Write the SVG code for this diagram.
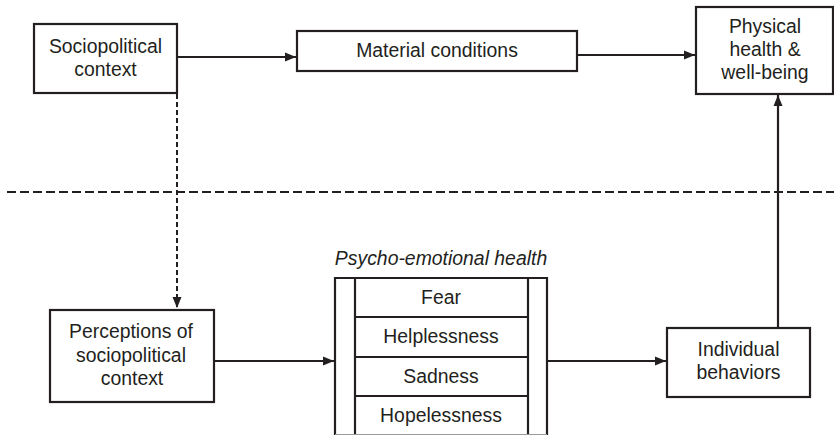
<svg xmlns="http://www.w3.org/2000/svg" width="834" height="435" viewBox="0 0 834 435">
<style>
.box{fill:#fff;stroke:#231f20;stroke-width:2.2}
.t{font-family:"Liberation Sans",Arial,sans-serif;font-size:19.4px;fill:#231f20;text-anchor:middle}
.ln{stroke:#231f20;stroke-width:2.2;fill:none}
.dash{stroke:#231f20;stroke-width:2;fill:none;stroke-dasharray:9,4}
.dash2{stroke:#231f20;stroke-width:2;fill:none;stroke-dasharray:5,3}
</style>
<defs>
<marker id="ah" markerWidth="12" markerHeight="10" refX="11" refY="5" orient="auto" markerUnits="userSpaceOnUse">
<path d="M0,0.5 L11,5 L0,9.5 Z" fill="#231f20"/>
</marker>
</defs>
<g id="connectors">
<line class="dash" x1="7" y1="192" x2="834" y2="192"/>
<line class="dash2" x1="177" y1="94" x2="177" y2="308" marker-end="url(#ah)"/>
<line class="ln" x1="177" y1="57" x2="296" y2="57" marker-end="url(#ah)"/>
<line class="ln" x1="577" y1="55" x2="695" y2="55" marker-end="url(#ah)"/>
<line class="ln" x1="214" y1="361" x2="334" y2="361" marker-end="url(#ah)"/>
<line class="ln" x1="547" y1="361" x2="666" y2="361" marker-end="url(#ah)"/>
<line class="ln" x1="778" y1="328" x2="778" y2="95" marker-end="url(#ah)"/>
</g>
<g id="sociopolitical">
<rect class="box" x="34" y="24" width="143" height="69"/>
<text class="t" x="105.5" y="53">Sociopolitical</text>
<text class="t" x="105.5" y="76">context</text>
</g>
<g id="material">
<rect class="box" x="297" y="31" width="280" height="40"/>
<text class="t" x="437" y="57">Material conditions</text>
</g>
<g id="physical">
<rect class="box" x="696" y="7" width="137" height="87"/>
<text class="t" x="765" y="33">Physical</text>
<text class="t" x="765" y="56">health &amp;</text>
<text class="t" x="765" y="79">well-being</text>
</g>
<g id="perceptions">
<rect class="box" x="50" y="310" width="164" height="92"/>
<text class="t" x="131" y="338">Perceptions of</text>
<text class="t" x="131" y="362">sociopolitical</text>
<text class="t" x="132" y="385">context</text>
</g>
<g id="psycho">
<text class="t" x="441" y="265" style="font-style:italic">Psycho-emotional health</text>
<path class="ln" d="M335,435 V278 H547 V435"/>
<line class="ln" x1="355" y1="278" x2="355" y2="435"/>
<line class="ln" x1="528" y1="278" x2="528" y2="435"/>
<line class="ln" x1="355" y1="317" x2="528" y2="317"/>
<line class="ln" x1="355" y1="357" x2="528" y2="357"/>
<line class="ln" x1="355" y1="396" x2="528" y2="396"/>
<line x1="335" y1="434.5" x2="547" y2="434.5" stroke="#9a9a9a" stroke-width="1"/>
<text class="t" x="441" y="304">Fear</text>
<text class="t" x="441" y="343">Helplessness</text>
<text class="t" x="441" y="383">Sadness</text>
<text class="t" x="441" y="422">Hopelessness</text>
</g>
<g id="behaviors">
<rect class="box" x="667" y="328" width="143" height="69"/>
<text class="t" x="738.5" y="356">Individual</text>
<text class="t" x="738.5" y="379">behaviors</text>
</g>
</svg>
